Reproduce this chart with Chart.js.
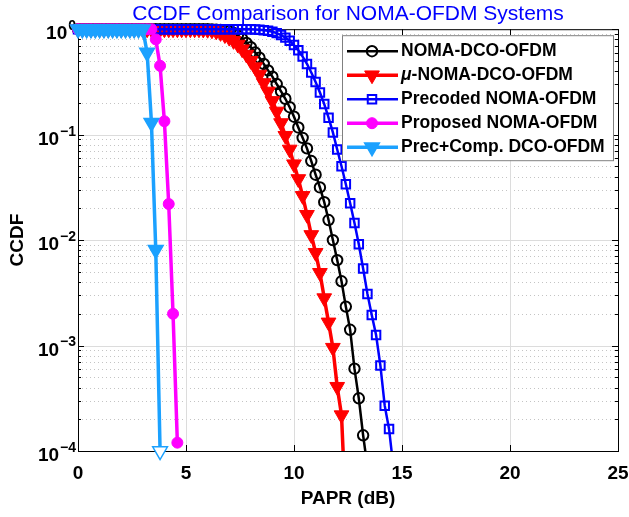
<!DOCTYPE html>
<html>
<head>
<meta charset="utf-8">
<title>CCDF Comparison for NOMA-OFDM Systems</title>
<script src="https://cdn.jsdelivr.net/npm/chart.js@4.4.0/dist/chart.umd.min.js"></script>
<style>
  html, body { margin: 0; padding: 0; background: #fff; }
  #wrap { width: 629px; height: 517px; }
</style>
</head>
<body>
<div id="wrap"><canvas id="ccdfChart" width="629" height="517"></canvas></div>
<script>
// PAPR grid in dB (0.2 dB steps)
const papr = [0, 0.2, 0.4, 0.6, 0.8, 1, 1.2, 1.4, 1.6, 1.8, 2, 2.2, 2.4, 2.6, 2.8, 3, 3.2, 3.4, 3.6, 3.8,
  4, 4.2, 4.4, 4.6, 4.8, 5, 5.2, 5.4, 5.6, 5.8, 6, 6.2, 6.4, 6.6, 6.8, 7, 7.2, 7.4, 7.6, 7.8,
  8, 8.2, 8.4, 8.6, 8.8, 9, 9.2, 9.4, 9.6, 9.8, 10, 10.2, 10.4, 10.6, 10.8, 11, 11.2, 11.4, 11.6, 11.8,
  12, 12.2, 12.4, 12.6, 12.8, 13, 13.2, 13.4, 13.6, 13.8, 14, 14.2, 14.4, 14.6];

// CCDF values
const nomaDco = [1, 1, 1, 1, 1, 1, 1, 1, 1, 1, 1, 1, 1, 1, 1, 1, 1, 1, 1, 1,
  1, 1, 1, 1, 1, 1, 1, 1, 1, 1,
  0.998, 0.995, 0.991, 0.984, 0.973, 0.955, 0.923, 0.871, 0.813, 0.741,
  0.676, 0.603, 0.537, 0.468, 0.407, 0.355, 0.302, 0.257, 0.219, 0.182,
  0.148, 0.117, 0.0933, 0.0741, 0.0562, 0.0417, 0.0316, 0.0229, 0.0155, 0.0100,
  0.00646, 0.00407, 0.00234, 0.00141, 0.000603, 0.000316, 0.000141, 0.0000708];
const muNomaDco = [1, 1, 1, 1, 1, 1, 1, 1, 1, 1, 1, 1, 1, 1, 1, 1, 1, 1, 1, 1,
  1, 1, 1, 1, 1, 1, 1, 1, 1,
  0.995, 0.989, 0.977, 0.955, 0.923, 0.881, 0.832, 0.776, 0.716, 0.646, 0.575,
  0.501, 0.437, 0.372, 0.309, 0.257, 0.209, 0.166, 0.129, 0.0977, 0.0724,
  0.0525, 0.0380, 0.0263, 0.0174, 0.0112, 0.00759, 0.00490, 0.00282, 0.00166, 0.000955,
  0.000407, 0.000219, 0.000025];
const precodedNoma = [1, 1, 1, 1, 1, 1, 1, 1, 1, 1, 1, 1, 1, 1, 1, 1, 1, 1, 1, 1,
  1, 1, 1, 1, 1, 1, 1, 1, 1, 1, 1, 1, 1, 1, 1, 1, 1, 1, 1, 1,
  0.997, 0.993, 0.989, 0.979, 0.966, 0.946, 0.918, 0.881, 0.832, 0.776,
  0.708, 0.631, 0.550, 0.468, 0.389, 0.316, 0.251, 0.195, 0.145, 0.105,
  0.0724, 0.0501, 0.0339, 0.0224, 0.0145, 0.00912, 0.00537, 0.00309, 0.00195, 0.00126,
  0.000646, 0.000269, 0.000162, 0.0000708];
const proposedNoma = [1, 1, 1, 1, 1, 1, 1, 1, 1, 1, 1, 1, 1, 1, 1, 1, 1, 1,
  0.80, 0.45, 0.134, 0.022, 0.002, 0.00012];
const precCompDco = [1, 1, 1, 1, 1, 1, 1, 1, 1, 1, 1, 1, 1, 1, 1, 1,
  0.60, 0.13, 0.0081, 0.0001];

const xTicks = [0, 5, 10, 15, 20, 25];
const yDecades = [1e-4, 1e-3, 1e-2, 1e-1, 1];
const yTickBase = '10';
const yTickExps = ['−4', '−3', '−2', '−1', '0'];

const FONT = "'Liberation Sans', Arial, Helvetica, sans-serif";
const CYAN = '#1ba1ff';

const toPoints = vals => vals.map((v, i) => ({ x: papr[i], y: v }));
const clipBelow = { left: false, top: false, right: false, bottom: 0 };

// MATLAB style grid, box and inward tick marks
const matlabAxes = {
  id: 'matlabAxes',
  beforeDatasetsDraw(chart) {
    const { ctx, chartArea: a, scales: { x, y } } = chart;
    const hline = (py, x0, x1) => { ctx.beginPath(); ctx.moveTo(x0, py); ctx.lineTo(x1, py); ctx.stroke(); };
    const vline = (px, y0, y1) => { ctx.beginPath(); ctx.moveTo(px, y0); ctx.lineTo(px, y1); ctx.stroke(); };
    const minors = [];
    yDecades.slice(0, -1).forEach(d => { for (let k = 2; k <= 9; k++) minors.push(d * k); });

    ctx.save();
    ctx.lineWidth = 1;
    ctx.strokeStyle = '#c4c4c4';
    ctx.setLineDash([1, 3]);
    minors.forEach(v => hline(Math.round(y.getPixelForValue(v)) + 0.5, a.left, a.right));
    ctx.setLineDash([]);
    ctx.strokeStyle = '#dcdcdc';
    yDecades.forEach(v => hline(Math.round(y.getPixelForValue(v)) + 0.5, a.left, a.right));
    xTicks.forEach(v => vline(Math.round(x.getPixelForValue(v)) + 0.5, a.top, a.bottom));

    ctx.strokeStyle = '#000';
    ctx.strokeRect(a.left + 0.5, a.top + 0.5, a.right - a.left, a.bottom - a.top);
    xTicks.forEach(v => {
      const px = Math.round(x.getPixelForValue(v)) + 0.5;
      vline(px, a.bottom, a.bottom - 6);
      vline(px, a.top, a.top + 6);
    });
    yDecades.forEach(v => {
      const py = Math.round(y.getPixelForValue(v)) + 0.5;
      hline(py, a.left, a.left + 6);
      hline(py, a.right, a.right - 6);
    });
    minors.forEach(v => {
      const py = Math.round(y.getPixelForValue(v)) + 0.5;
      hline(py, a.left, a.left + 3);
      hline(py, a.right, a.right - 3);
    });

    // y tick labels as 10 with a raised exponent
    ctx.fillStyle = '#000';
    ctx.textBaseline = 'middle';
    ctx.textAlign = 'right';
    yDecades.forEach((v, i) => {
      const py = y.getPixelForValue(v);
      const xr = a.left - 2;
      ctx.font = `bold 14px ${FONT}`;
      const ew = ctx.measureText(yTickExps[i]).width;
      ctx.fillText(yTickExps[i], xr, py - 3);
      ctx.font = `bold 19px ${FONT}`;
      ctx.fillText(yTickBase, xr - ew - 1, py + 5);
    });
    ctx.restore();
  }
};

// legend box inside the axes, line + marker samples
const boxLegend = {
  id: 'boxLegend',
  afterDatasetsDraw(chart) {
    const { ctx, chartArea: a } = chart;
    const left = a.right - 276, top = a.top + 6, w = 271, h = 125;
    ctx.save();
    ctx.fillStyle = '#fff';
    ctx.fillRect(left, top, w, h);
    ctx.strokeStyle = '#808080';
    ctx.lineWidth = 1;
    ctx.strokeRect(left + 0.5, top + 0.5, w, h);

    chart.data.datasets.forEach((ds, i) => {
      const cy = top + 16 + i * 24;
      ctx.strokeStyle = ds.borderColor;
      ctx.lineWidth = ds.borderWidth;
      ctx.beginPath();
      ctx.moveTo(left + 5, cy);
      ctx.lineTo(left + 56, cy);
      ctx.stroke();

      ctx.fillStyle = ds.legendFill;
      ctx.strokeStyle = ds.borderColor;
      ctx.lineWidth = ds.pointBorderWidth;
      Chart.helpers.drawPoint(ctx, {
        pointStyle: ds.pointStyle, rotation: ds.pointRotation || 0,
        radius: ds.pointRadius, borderWidth: ds.pointBorderWidth
      }, left + 30, cy);

      let label = ds.label;
      let tx = left + 59;
      ctx.fillStyle = '#000';
      ctx.textBaseline = 'middle';
      ctx.textAlign = 'left';
      if (label.startsWith('μ')) {
        ctx.font = `italic bold 17.5px ${FONT}`;
        ctx.fillText('μ', tx, cy);
        tx += ctx.measureText('μ').width;
        label = label.slice(1);
      }
      ctx.font = `bold 17.5px ${FONT}`;
      ctx.fillText(label, tx, cy);
    });
    ctx.restore();
  }
};

new Chart(document.getElementById('ccdfChart'), {
  type: 'scatter',
  data: {
    datasets: [
      {
        label: 'NOMA-DCO-OFDM', data: toPoints(nomaDco), order: 4, clip: clipBelow,
        borderColor: '#000000', borderWidth: 2.5, showLine: true,
        pointStyle: 'circle', pointRadius: 5.2, pointBorderWidth: 2,
        pointBackgroundColor: 'rgba(0,0,0,0)', legendFill: 'rgba(0,0,0,0)'
      },
      {
        label: 'μ-NOMA-DCO-OFDM', data: toPoints(muNomaDco), order: 3, clip: clipBelow,
        borderColor: '#ff0000', borderWidth: 3.5, showLine: true,
        pointStyle: 'triangle', pointRotation: 180, pointRadius: 8.5, pointBorderWidth: 1,
        pointBackgroundColor: '#ff0000', legendFill: '#ff0000'
      },
      {
        label: 'Precoded NOMA-OFDM', data: toPoints(precodedNoma), order: 2, clip: clipBelow,
        borderColor: '#0000ff', borderWidth: 2.5, showLine: true,
        pointStyle: 'rect', pointRadius: 6, pointBorderWidth: 2,
        pointBackgroundColor: 'rgba(0,0,0,0)', legendFill: 'rgba(0,0,0,0)'
      },
      {
        label: 'Proposed NOMA-OFDM', data: toPoints(proposedNoma), order: 1, clip: false,
        borderColor: '#ff00ff', borderWidth: 3.5, showLine: true,
        pointStyle: 'circle', pointRadius: 5.5, pointBorderWidth: 1,
        pointBackgroundColor: '#ff00ff', legendFill: '#ff00ff'
      },
      {
        label: 'Prec+Comp. DCO-OFDM', data: toPoints(precCompDco), order: 0, clip: false,
        borderColor: CYAN, borderWidth: 3.5, showLine: true,
        pointStyle: 'triangle', pointRotation: 180, pointRadius: 8.5, pointBorderWidth: 1.5,
        pointBackgroundColor: ctx => ctx.dataIndex === precCompDco.length - 1 ? '#ffffff' : CYAN,
        legendFill: CYAN
      }
    ]
  },
  options: {
    responsive: false,
    animation: false,
    events: [],
    layout: { padding: { left: 0, right: 11, top: 0, bottom: 0 } },
    elements: { line: { tension: 0 } },
    plugins: {
      legend: { display: false },
      tooltip: { enabled: false },
      title: {
        display: true, fullSize: false,
        text: 'CCDF Comparison for NOMA-OFDM Systems',
        color: '#0000ff',
        font: { family: FONT, size: 21, weight: 'normal' },
        padding: { top: 2, bottom: 2 }
      }
    },
    scales: {
      x: {
        type: 'linear', min: 0, max: 25,
        afterBuildTicks: s => { s.ticks = xTicks.map(v => ({ value: v })); },
        afterFit: s => { s.height = 66; s.paddingLeft = 0; s.paddingRight = 0; },
        grid: { display: false, drawTicks: false },
        border: { display: false },
        ticks: { color: '#000', padding: 11, font: { family: FONT, size: 19, weight: 'bold' } },
        title: {
          display: true, text: 'PAPR (dB)', color: '#000',
          font: { family: FONT, size: 19, weight: 'bold' }, padding: { top: 0, bottom: 7 }
        }
      },
      y: {
        type: 'logarithmic', min: 1e-4, max: 1,
        afterBuildTicks: s => { s.ticks = yDecades.map(v => ({ value: v })); },
        afterFit: s => { s.width = 78; },
        grid: { display: false, drawTicks: false },
        border: { display: false },
        ticks: { display: false },
        title: {
          display: true, text: 'CCDF', color: '#000',
          font: { family: FONT, size: 19, weight: 'bold' }, padding: { top: 6, bottom: 0 }
        }
      }
    }
  },
  plugins: [matlabAxes, boxLegend]
});
</script>
</body>
</html>
